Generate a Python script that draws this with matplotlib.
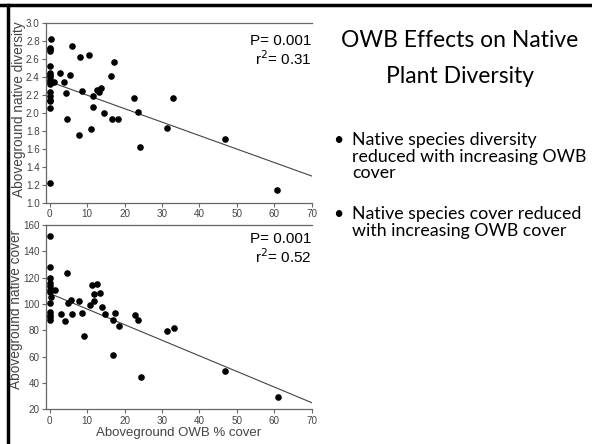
import matplotlib
matplotlib.use("Agg")
import matplotlib.pyplot as plt
from matplotlib.lines import Line2D

# top panel: native diversity vs OWB cover
div_x = [0, 0, 0, 0.3, 0, 0, 0, 0, 0, 0, 0, 0, 0, 0, 0, 0, 0,
         1.2, 2.8, 3.7, 4.3, 4.5, 5.3, 5.9, 7.7, 8.2, 8.7, 10.5, 11.1, 11.5,
         11.6, 12.5, 13.1, 13.8, 14.5, 16.4, 16.5, 17.1, 18.1, 22.5, 23.5,
         24.2, 31.2, 32.9, 46.8, 60.8]
div_y = [2.73, 2.71, 2.69, 2.82, 2.52, 2.45, 2.43, 2.40, 2.37, 2.33, 2.24,
         2.19, 2.15, 2.13, 2.06, 1.22, 2.35,
         2.35, 2.45, 2.35, 2.22, 1.94, 2.43, 2.75, 1.76, 2.62, 2.25, 2.65,
         1.82, 2.07, 2.19, 2.26, 2.23, 2.28, 2.00, 2.41, 1.94, 2.57, 1.93,
         2.17, 2.01, 1.62, 1.84, 2.17, 1.71, 1.15]
div_fit_x = [0, 70]
div_fit_y = [2.35, 1.30]

# bottom panel: native cover vs OWB cover
cov_x = [0, 0, 0, 0, 0, 0, 0, 0, 0, 0, 0, 0, 0.3, 1.3, 3.0, 4.2, 4.5, 4.8,
         5.7, 6.0, 7.9, 8.5, 9.1, 10.7, 11.4, 11.8, 11.8, 12.7, 13.4, 14.0,
         14.7, 16.8, 17.4, 16.8, 18.4, 22.8, 23.6, 24.4, 31.2, 33.1, 46.8, 61.0]
cov_y = [151.6, 128.4, 120, 116, 113.7, 111, 109.4, 101, 94, 92, 90.4, 88,
         105, 111, 92.7, 87.3, 123.8, 101, 103, 92.7, 102.5, 93.4, 76, 99.3,
         114.4, 107.3, 102.5, 115.2, 108.6, 98, 92.6, 87.8, 92.9, 61.3, 83.3,
         91.9, 88.1, 44.5, 79.3, 82.0, 49.4, 29]
cov_fit_x = [0, 70]
cov_fit_y = [108, 25]

x_ticks = [0, 10, 20, 30, 40, 50, 60, 70]
div_ticks = [1.0, 1.2, 1.4, 1.6, 1.8, 2.0, 2.2, 2.4, 2.6, 2.8, 3.0]
cov_ticks = [20, 40, 60, 80, 100, 120, 140, 160]

title = "OWB Effects on Native\nPlant Diversity"
bullets = ["Native species diversity\nreduced with increasing OWB\ncover",
           "Native species cover reduced\nwith increasing OWB cover"]

plt.rcParams['font.family'] = ['Liberation Sans', 'DejaVu Sans']
spine_col = '#666666'
lab_col = '#444444'

fig = plt.figure(figsize=(5.92, 4.44), dpi=100)

def style(ax, yticks, fmt):
    ax.spines['right'].set_visible(False)
    for s in ['left', 'bottom', 'top']:
        ax.spines[s].set_color(spine_col)
        ax.spines[s].set_linewidth(0.9)
    ax.set_xlim(-1, 70)
    ax.set_xticks(x_ticks)
    ax.set_yticks(yticks)
    ax.set_yticklabels([fmt.format(v) for v in yticks])
    ax.tick_params(direction='out', length=3, width=0.8, color=spine_col,
                   labelsize=7.1, labelcolor=lab_col, pad=1.5)

ax1 = fig.add_axes([0.0777, 0.5428, 0.449, 0.4047])
ax1.scatter(div_x, div_y, s=14, color='black', zorder=3)
ax1.plot(div_fit_x, div_fit_y, color='#444444', lw=0.8)
ax1.set_ylim(1.0, 3.0)
style(ax1, div_ticks, "{:.1f}")
ax1.set_ylabel("Aboveground native diversity", fontsize=9.8, color=lab_col)
ax1.yaxis.set_label_coords(-0.077, 0.52)
ax1.text(0.998, 0.94, "P= 0.001\nr$^2$= 0.31", transform=ax1.transAxes,
         ha='right', va='top', fontsize=11, linespacing=1.05)

ax2 = fig.add_axes([0.0777, 0.0782, 0.449, 0.415])
ax2.scatter(cov_x, cov_y, s=14, color='black', zorder=3)
ax2.plot(cov_fit_x, cov_fit_y, color='#444444', lw=0.8)
ax2.set_ylim(20, 160)
style(ax2, cov_ticks, "{:d}")
ax2.set_ylabel("Aboveground native cover", fontsize=9.8, color=lab_col)
ax2.yaxis.set_label_coords(-0.087, 0.54)
ax2.set_xlabel("Aboveground OWB % cover", fontsize=9.5, color=lab_col, labelpad=1)
ax2.text(0.998, 0.96, "P= 0.001\nr$^2$= 0.52", transform=ax2.transAxes,
         ha='right', va='top', fontsize=11, linespacing=1.05)

# slide border (top and left)
fig.add_artist(Line2D([0, 1], [1 - 5 / 444, 1 - 5 / 444], color='black', lw=2.5,
                      transform=fig.transFigure))
fig.add_artist(Line2D([8 / 592, 8 / 592], [0, 1 - 5 / 444], color='black', lw=2.5,
                      transform=fig.transFigure))

fig.text(460 / 592, 1 - 58.5 / 444, title, ha='center', va='center', fontsize=16.5,
         family=['Lato', 'DejaVu Sans'], linespacing=1.9)
for b, top in zip(bullets, [132, 206]):
    fig.text(333 / 592, 1 - top / 444, "\u2022", fontsize=12.5, va='top',
             family=['Lato', 'DejaVu Sans'])
    fig.text(352 / 592, 1 - top / 444, b, fontsize=12.8, va='top',
             family=['Lato', 'DejaVu Sans'], linespacing=1.05)

fig.savefig("out.png", dpi=100)
